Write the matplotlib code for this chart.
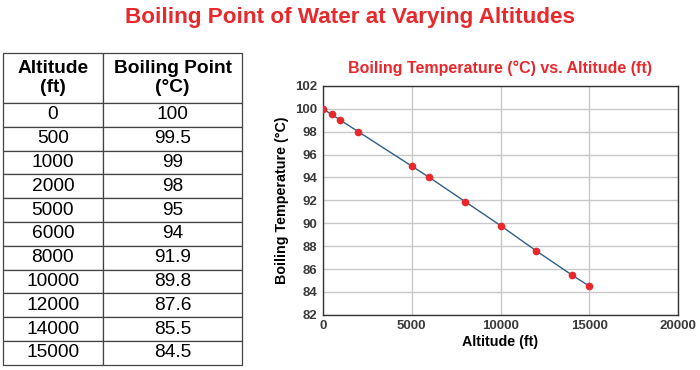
import matplotlib.pyplot as plt

plt.rcParams['font.family'] = ['Liberation Sans', 'DejaVu Sans']

altitude = [0, 500, 1000, 2000, 5000, 6000, 8000, 10000, 12000, 14000, 15000]
boiling = [100, 99.5, 99, 98, 95, 94, 91.9, 89.8, 87.6, 85.5, 84.5]
col_labels = ["Altitude\n(ft)", "Boiling Point\n(°C)"]

RED = '#e8282b'

fig = plt.figure(figsize=(7, 3.7), dpi=100)
fig.text(0.5, 0.952, "Boiling Point of Water at Varying Altitudes",
         ha='center', va='center', color=RED, fontsize=16.2, fontweight='bold')

# ── table ───────────────────────────────────────────────
tax = fig.add_axes([0.004, 0.014, 0.342, 0.843])
tax.axis('off')
cells = [[str(a), f"{b:g}"] for a, b in zip(altitude, boiling)]
tbl = tax.table(cellText=cells, colLabels=col_labels, cellLoc='center',
                colWidths=[100, 139], bbox=[0, 0, 1, 1])
tbl.auto_set_font_size(False)
tbl.set_fontsize(13.8)
for (r, c), cell in tbl.get_celld().items():
    cell.set_edgecolor('#444444')
    cell.set_linewidth(0.9)
    if r == 0:
        cell.set_height(cell.get_height() * 2.1)
        cell.get_text().set_fontweight('bold')
        cell.get_text().set_fontsize(13.8)
        cell.get_text().set_linespacing(1.2)

# ── chart ───────────────────────────────────────────────
ax = fig.add_axes([0.461, 0.149, 0.508, 0.619])
ax.plot(altitude, boiling, '-', color='#2f5f86', linewidth=1.0, zorder=2)
ax.plot(altitude, boiling, 'o', color=RED, markersize=4.5, zorder=3)
ax.set_xlim(0, 20000)
ax.set_ylim(82, 102)
ax.set_xticks(range(0, 20001, 5000))
ax.set_yticks(range(82, 103, 2))
ax.grid(True, color='#c8c8c8', linewidth=1.0)
ax.set_axisbelow(True)
ax.tick_params(length=0, labelsize=9.5, labelcolor='#3a3a3a', pad=4)
for lbl in ax.get_xticklabels() + ax.get_yticklabels():
    lbl.set_fontweight('bold')
for s in ax.spines.values():
    s.set_color('#333333')
    s.set_linewidth(1.0)
ax.set_xlabel("Altitude (ft)", fontsize=10.3, fontweight='bold', labelpad=2)
ax.set_ylabel("Boiling Temperature (°C)", fontsize=10.3, fontweight='bold', labelpad=4)
ax.set_title("Boiling Temperature (°C) vs. Altitude (ft)", color=RED,
             fontsize=11.5, fontweight='bold', pad=9)

fig.savefig("out.png", dpi=100)
